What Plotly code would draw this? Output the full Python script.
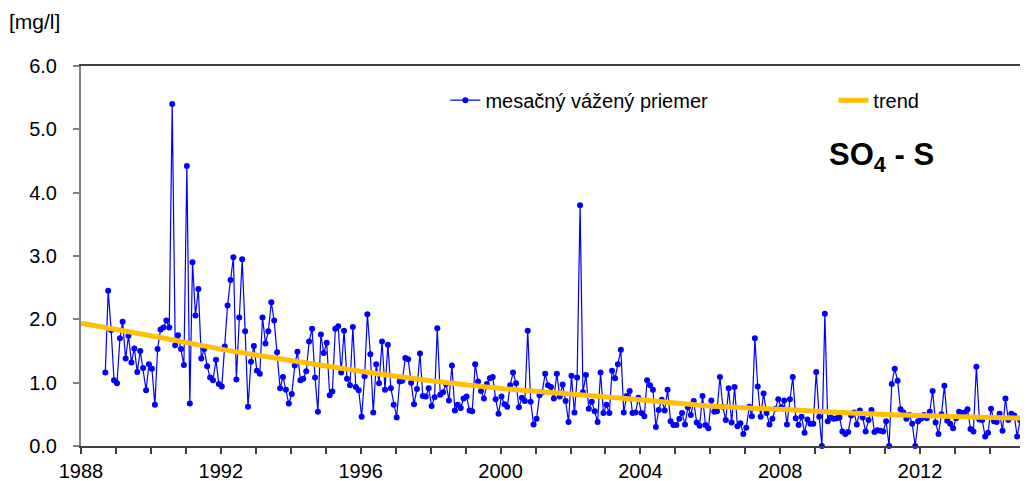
import pandas as pd
import plotly.graph_objects as go

# monthly weighted mean SO4-S [mg/l], Sep 1988 .. Dec 2014
vals_1988_1992 = [1.16, 2.45, 1.83, 1.04, 0.99, 1.70, 1.96, 1.38, 1.74, 1.32, 1.54, 1.17,
                  1.50, 1.23, 0.88, 1.29, 1.22, 0.65, 1.53, 1.84, 1.87, 1.98, 1.87, 5.40,
                  1.59, 1.75, 1.53, 1.28, 4.42, 0.67, 2.90, 2.06, 2.48, 1.38, 1.53, 1.26,
                  1.08, 1.04, 1.36, 0.98, 0.94, 1.57, 2.22, 2.62, 2.98, 1.05, 2.03, 2.95]
vals_1992_1996 = [1.81, 0.62, 1.33, 1.58, 1.19, 1.14, 2.03, 1.62, 1.81, 2.27, 1.98, 1.48,
                  0.91, 1.09, 0.89, 0.67, 0.82, 1.27, 1.49, 1.04, 1.06, 1.18, 1.65, 1.85,
                  1.08, 0.54, 1.76, 1.47, 1.63, 0.80, 0.86, 1.85, 1.89, 1.16, 1.82, 1.06,
                  0.96, 1.88, 0.93, 0.88, 0.46, 1.10, 2.08, 1.45, 0.53, 1.29, 0.99, 1.65]
vals_1996_2000 = [0.89, 1.60, 0.91, 0.65, 0.45, 1.02, 1.03, 1.39, 1.37, 1.00, 0.66, 0.90,
                  1.46, 0.79, 0.78, 0.91, 0.63, 0.77, 1.86, 0.81, 0.85, 0.98, 0.72, 1.27,
                  0.56, 0.65, 0.60, 0.75, 0.78, 0.56, 0.55, 1.29, 1.02, 0.87, 0.75, 0.98,
                  1.07, 1.09, 0.74, 0.51, 0.78, 0.66, 0.62, 0.96, 1.16, 0.99, 0.61, 0.76]
vals_2000_2004 = [0.71, 1.82, 0.70, 0.34, 0.43, 0.80, 0.85, 1.14, 0.96, 0.93, 0.75, 1.14,
                  0.78, 0.97, 0.71, 0.38, 1.11, 0.53, 1.08, 3.80, 0.85, 1.12, 0.59, 0.70,
                  0.55, 0.38, 1.16, 0.52, 0.65, 0.52, 1.19, 1.07, 1.29, 1.52, 0.53, 0.79,
                  0.87, 0.52, 0.53, 0.76, 0.52, 0.47, 1.04, 0.96, 0.89, 0.30, 0.57, 0.73]
vals_2004_2008 = [0.56, 0.89, 0.39, 0.33, 0.33, 0.43, 0.52, 0.34, 0.61, 0.49, 0.71, 0.37,
                  0.32, 0.79, 0.33, 0.28, 0.72, 0.54, 0.55, 1.09, 0.62, 0.41, 0.91, 0.37,
                  0.93, 0.31, 0.36, 0.19, 0.29, 0.62, 0.47, 1.70, 0.94, 0.46, 0.83, 0.52,
                  0.34, 0.43, 0.59, 0.74, 0.61, 0.72, 0.34, 0.74, 1.09, 0.44, 0.33, 0.46]
vals_2008_2014 = [0.21, 0.42, 0.35, 0.35, 1.17, 0.46, 0.00, 2.09, 0.39, 0.45, 0.43, 0.44,
                  0.45, 0.23, 0.19, 0.22, 0.48, 0.53, 0.34, 0.56, 0.45, 0.23, 0.41, 0.57,
                  0.22, 0.25, 0.24, 0.23, 0.39, 0.00, 0.98, 1.22, 1.03, 0.58, 0.53, 0.43,
                  0.49, 0.35, 0.00, 0.39, 0.43, 0.49, 0.44, 0.54, 0.87, 0.37, 0.19, 0.50,
                  0.95, 0.40, 0.35, 0.28, 0.44, 0.54, 0.52, 0.53, 0.58, 0.27, 0.23, 1.25,
                  0.42, 0.41, 0.15, 0.21, 0.59, 0.39, 0.38, 0.51, 0.24, 0.75, 0.41, 0.51,
                  0.48, 0.15, 0.41, 0.67]

monthly = (vals_1988_1992 + vals_1992_1996 + vals_1996_2000 +
           vals_2000_2004 + vals_2004_2008 + vals_2008_2014)
first_month = "1988-09-01"

trend_years = [1988, 1990, 1992, 1994, 1996, 1998, 2000, 2002, 2004, 2006, 2008, 2010, 2012, 2014, 2015]
trend_vals = [1.94, 1.74, 1.53, 1.35, 1.18, 1.03, 0.91, 0.82, 0.73, 0.63, 0.58, 0.52, 0.48, 0.45, 0.44]

dates = pd.date_range(first_month, periods=len(monthly), freq="MS") + pd.Timedelta(days=10)
trend_dates = [f"{y}-01-01" for y in trend_years]

FONT = "Arial, Liberation Sans, sans-serif"

fig = go.Figure()
fig.add_trace(go.Scatter(
    x=dates, y=monthly, mode="lines+markers", name="mesačný vážený priemer",
    line=dict(color="#0000FF", width=1.2),
    marker=dict(color="#0000FF", size=6),
    cliponaxis=False, legend="legend",
))
fig.add_trace(go.Scatter(
    x=trend_dates, y=trend_vals, mode="lines", name="trend",
    line=dict(color="#FFC000", width=5, shape="spline"),
    legend="legend2",
))

legend_common = dict(orientation="h", y=0.91, xanchor="left", yanchor="middle",
                     bgcolor="rgba(0,0,0,0)", font=dict(size=20), itemclick=False,
                     itemdoubleclick=False)

# the page body adds an 8px offset; figure is sized to fill the window
fig.update_layout(
    width=1020, height=473,
    margin=dict(l=73, r=3, t=58, b=35),
    paper_bgcolor="white", plot_bgcolor="white",
    font=dict(family=FONT, size=20, color="black"),
    showlegend=True,
    legend=dict(x=0.386, **legend_common),
    legend2=dict(x=0.797, **legend_common),
    xaxis=dict(
        type="date", range=["1988-01-01", "2015-01-01"], automargin=False,
        tick0="1988-01-01", dtick="M48", tickformat="%Y",
        showgrid=False, zeroline=False,
        showline=True, linecolor="#404040", linewidth=1.5, mirror=True,
        ticks="outside", ticklen=6, tickcolor="#404040", tickwidth=1.5,
        minor=dict(dtick="M12", ticks="outside", ticklen=6, tickcolor="#404040",
                   tickwidth=1.5, showgrid=False),
        tickfont=dict(size=20),
    ),
    yaxis=dict(
        range=[0, 6], dtick=1, tickformat=".1f", automargin=False,
        showgrid=False, zeroline=False,
        showline=True, linecolor="#808080", linewidth=2,
        ticks="outside", ticklen=6, tickcolor="#808080", tickwidth=1.5,
        tickfont=dict(size=20), ticklabelstandoff=12,
    ),
    shapes=[dict(type="line", xref="paper", yref="paper", x0=1, x1=1, y0=0, y1=1,
                 line=dict(color="#404040", width=1.5))],
    annotations=[
        dict(text="[mg/l]", xref="paper", yref="paper", x=-0.078, y=1.118,
             xanchor="left", yanchor="middle", showarrow=False,
             font=dict(family=FONT, size=21)),
        dict(text="<b>SO<sub>4</sub> - S</b>", xref="paper", yref="paper", x=0.848, y=0.76,
             xanchor="center", yanchor="middle", showarrow=False,
             font=dict(family=FONT, size=31)),
    ],
)

fig.write_html("out.html")
